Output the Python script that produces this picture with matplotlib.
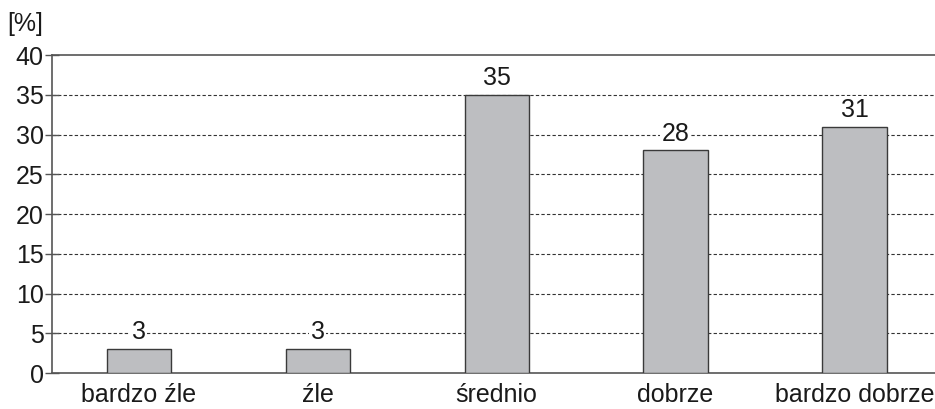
import matplotlib.pyplot as plt

categories = ["bardzo źle", "źle", "średnio", "dobrze", "bardzo dobrze"]
values = [3, 3, 35, 28, 31]
y_ticks = [0, 5, 10, 15, 20, 25, 30, 35, 40]

plt.rcParams["font.family"] = ["Liberation Sans", "DejaVu Sans"]

fig = plt.figure(figsize=(9.35, 4.09), dpi=100)
ax = fig.add_axes([0.0556, 0.088, 0.9444, 0.7775])

x = range(len(categories))
bars = ax.bar(x, values, width=0.36, color="#bdbec1", edgecolor="#3a3a3a", linewidth=1.0, zorder=3)

for xi, v in zip(x, values):
    ax.text(xi, v + 0.6, str(v), ha="center", va="bottom", fontsize=18, color="#1a1a1a",
            bbox=dict(facecolor="white", edgecolor="none", pad=1.0), zorder=4)

ax.set_ylim(0, 40)
ax.set_xlim(-0.486, 4.45)
ax.set_yticks(y_ticks)
ax.set_xticks(list(x))
ax.set_xticklabels(categories)
ax.tick_params(axis="y", labelsize=18, length=10, direction="inout", width=1, color="#555555", pad=1, labelcolor="#1a1a1a")
ax.tick_params(axis="x", labelsize=18, length=0, pad=7, labelcolor="#1a1a1a")

for yt in y_ticks[1:-1]:
    ax.axhline(yt, color="#333333", linestyle=(0, (3, 2)), linewidth=0.8, zorder=1)

ax.spines["right"].set_visible(False)
for s in ["left", "bottom", "top"]:
    ax.spines[s].set_color("#555555")
    ax.spines[s].set_linewidth(1.2)

fig.text(0.008, 0.925, "[%]", fontsize=18, color="#1a1a1a")

fig.savefig("out.png", dpi=100)
